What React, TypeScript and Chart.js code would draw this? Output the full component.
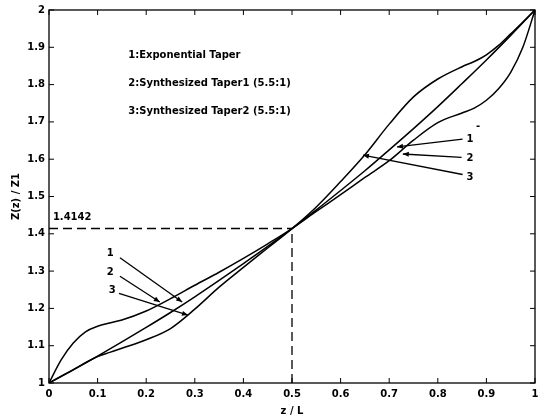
import React, { useEffect, useRef } from "react";
import { Chart, registerables } from "chart.js";
Chart.register(...registerables);

// ---- data ----
const xTicks = [0, 0.1, 0.2, 0.3, 0.4, 0.5, 0.6, 0.7, 0.8, 0.9, 1];
const xTickLabels = ["0", "0.1", "0.2", "0.3", "0.4", "0.5", "0.6", "0.7", "0.8", "0.9", "1"];
const yTicks = [1, 1.1, 1.2, 1.3, 1.4, 1.5, 1.6, 1.7, 1.8, 1.9, 2];
const yTickLabels = ["1", "1.1", "1.2", "1.3", "1.4", "1.5", "1.6", "1.7", "1.8", "1.9", "2"];

const expX = [0, 0.05, 0.1, 0.15, 0.2, 0.25, 0.3, 0.35, 0.4, 0.45, 0.5, 0.55, 0.6, 0.65, 0.7, 0.75, 0.8, 0.85, 0.9, 0.95, 1];
const expY = [1.0, 1.035, 1.072, 1.11, 1.149, 1.189, 1.231, 1.275, 1.32, 1.366, 1.414, 1.464, 1.516, 1.569, 1.625, 1.682, 1.741, 1.803, 1.866, 1.932, 2.0];

const taper1X = [0, 0.025, 0.05, 0.075, 0.1, 0.125, 0.15, 0.2, 0.25, 0.3, 0.35, 0.4, 0.45, 0.5, 0.55, 0.6, 0.65, 0.7, 0.75, 0.8, 0.85, 0.875, 0.9, 0.925, 0.95, 0.975, 1];
const taper1Y = [1.0, 1.062, 1.107, 1.137, 1.152, 1.161, 1.169, 1.193, 1.226, 1.262, 1.297, 1.334, 1.373, 1.414, 1.46, 1.505, 1.551, 1.596, 1.651, 1.698, 1.724, 1.737, 1.758, 1.789, 1.833, 1.9, 2.0];

const taper2X = [0, 0.05, 0.1, 0.125, 0.15, 0.2, 0.25, 0.3, 0.35, 0.4, 0.45, 0.5, 0.55, 0.6, 0.65, 0.7, 0.75, 0.8, 0.85, 0.875, 0.9, 0.925, 0.95, 0.975, 1];
const taper2Y = [1.0, 1.036, 1.071, 1.082, 1.093, 1.116, 1.146, 1.198, 1.257, 1.31, 1.362, 1.414, 1.472, 1.54, 1.612, 1.694, 1.767, 1.815, 1.848, 1.862, 1.88, 1.905, 1.936, 1.968, 2.0];

const legendLines = ["1:Exponential Taper", "2:Synthesized Taper1 (5.5:1)", "3:Synthesized Taper2 (5.5:1)"];
const refX = 0.5;
const refY = 1.4142;
const refLabel = "1.4142";
const arrowLabels = ["1", "2", "3", "1", "2", "3"];

const FONT = "DejaVu Sans";

export default function App() {
  const ref = useRef<HTMLCanvasElement | null>(null);
  useEffect(() => {
    document.body.style.margin = "0";
    const canvas = ref.current!;
    const toPts = (xs: number[], ys: number[]) => xs.map((x, i) => ({ x, y: ys[i] }));

    const overlay = {
      id: "overlay",
      afterDatasetsDraw(chart: any) {
        const ctx = chart.ctx as CanvasRenderingContext2D;
        const xs = chart.scales.x;
        const ys = chart.scales.y;
        const a = chart.chartArea;
        const px = (v: number) => xs.getPixelForValue(v);
        const py = (v: number) => ys.getPixelForValue(v);
        ctx.save();
        ctx.strokeStyle = "#000";
        ctx.fillStyle = "#000";
        // box
        ctx.lineWidth = 1.3;
        ctx.strokeRect(a.left, a.top, a.right - a.left, a.bottom - a.top);
        // inward ticks
        ctx.lineWidth = 1;
        ctx.beginPath();
        xTicks.forEach((v) => {
          const x = px(v);
          ctx.moveTo(x, a.bottom); ctx.lineTo(x, a.bottom - 5);
          ctx.moveTo(x, a.top); ctx.lineTo(x, a.top + 5);
        });
        yTicks.forEach((v) => {
          const y = py(v);
          ctx.moveTo(a.left, y); ctx.lineTo(a.left + 5, y);
          ctx.moveTo(a.right, y); ctx.lineTo(a.right - 5, y);
        });
        ctx.stroke();
        // dashed reference lines
        ctx.lineWidth = 1.3;
        ctx.setLineDash([9, 5]);
        ctx.beginPath();
        ctx.moveTo(px(0), py(refY)); ctx.lineTo(px(refX), py(refY));
        ctx.moveTo(px(refX), py(1)); ctx.lineTo(px(refX), py(refY));
        ctx.stroke();
        ctx.setLineDash([]);
        // texts
        ctx.font = `bold 10px '${FONT}'`;
        ctx.textBaseline = "middle";
        ctx.textAlign = "left";
        ctx.fillText(refLabel, px(0.008), py(1.445));
        const legendY = [1.879, 1.804, 1.729];
        legendLines.forEach((t, i) => ctx.fillText(t, px(0.163), py(legendY[i])));
        // arrows: [labelX, labelY, startX, startY, tipX, tipY]
        const arrows = [
          [0.126, 1.347, 0.146, 1.336, 0.274, 1.217],
          [0.126, 1.296, 0.146, 1.286, 0.228, 1.217],
          [0.130, 1.248, 0.144, 1.240, 0.286, 1.182],
          [0.866, 1.654, 0.851, 1.654, 0.716, 1.633],
          [0.866, 1.603, 0.849, 1.605, 0.728, 1.614],
          [0.866, 1.552, 0.851, 1.559, 0.646, 1.611],
        ];
        ctx.textAlign = "center";
        ctx.lineWidth = 1.3;
        arrows.forEach((ar, i) => {
          ctx.fillText(arrowLabels[i], px(ar[0]), py(ar[1]));
          const x0 = px(ar[2]), y0 = py(ar[3]), x1 = px(ar[4]), y1 = py(ar[5]);
          ctx.beginPath(); ctx.moveTo(x0, y0); ctx.lineTo(x1, y1); ctx.stroke();
          const ang = Math.atan2(y1 - y0, x1 - x0);
          const L = 6, W = 2.5;
          ctx.beginPath();
          ctx.moveTo(x1, y1);
          ctx.lineTo(x1 - L * Math.cos(ang) + W * Math.sin(ang), y1 - L * Math.sin(ang) - W * Math.cos(ang));
          ctx.lineTo(x1 - L * Math.cos(ang) - W * Math.sin(ang), y1 - L * Math.sin(ang) + W * Math.cos(ang));
          ctx.closePath(); ctx.fill();
        });
        ctx.fillText("-", px(0.883), py(1.689));
        ctx.restore();
      },
    };

    const ds = (label: string, xs: number[], ys: number[]) => ({
      label,
      data: toPts(xs, ys),
      borderColor: "#000",
      borderWidth: 1.5,
      pointRadius: 0,
      fill: false,
      cubicInterpolationMode: "monotone" as const,
    });

    const tickFont = { family: FONT, size: 10, weight: "bold" as const };
    const chart = new Chart(canvas, {
      type: "line",
      data: {
        datasets: [
          ds(legendLines[0], expX, expY),
          ds(legendLines[1], taper1X, taper1Y),
          ds(legendLines[2], taper2X, taper2Y),
        ],
      },
      options: {
        animation: false,
        responsive: false,
        devicePixelRatio: 1,
        layout: { padding: { top: 10, right: 12, left: 0, bottom: 0 } },
        plugins: { legend: { display: false }, tooltip: { enabled: false } },
        scales: {
          x: {
            type: "linear",
            min: 0,
            max: 1,
            afterBuildTicks: (s: any) => { s.ticks = xTicks.map((v) => ({ value: v })); },
            afterFit: (s: any) => { s.height = 35; },
            grid: { display: false, drawTicks: false },
            border: { display: false },
            ticks: {
              color: "#000",
              font: tickFont,
              padding: 5,
              maxRotation: 0,
              autoSkip: false,
              callback: (_v: any, i: number) => xTickLabels[i],
            },
            title: { display: true, text: "z / L", color: "#000", font: tickFont, padding: { top: 0, bottom: 1 } },
          },
          y: {
            type: "linear",
            min: 1,
            max: 2,
            afterBuildTicks: (s: any) => { s.ticks = yTicks.map((v) => ({ value: v })); },
            afterFit: (s: any) => { s.width = 49; },
            grid: { display: false, drawTicks: false },
            border: { display: false },
            ticks: {
              color: "#000",
              font: tickFont,
              padding: 4,
              autoSkip: false,
              callback: (_v: any, i: number) => yTickLabels[i],
            },
            title: { display: true, text: "Z(z) / Z1", color: "#000", font: tickFont, padding: { top: 10, bottom: 0 } },
          },
        },
      } as any,
      plugins: [overlay],
    });
    return () => chart.destroy();
  }, []);
  return <canvas ref={ref} width={547} height={418} style={{ display: "block" }} />;
}
